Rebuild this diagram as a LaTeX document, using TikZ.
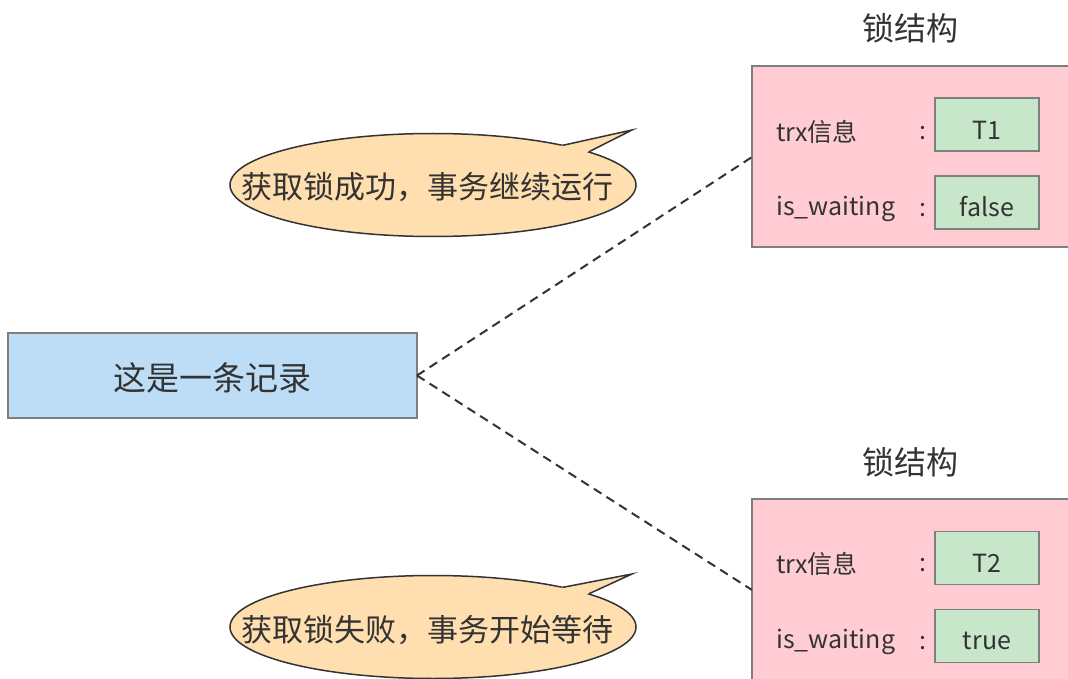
\documentclass[tikz,border=0pt]{standalone}
\usepackage{fontspec}
\setmainfont{Noto Sans CJK SC}
\usetikzlibrary{shapes.geometric}
\definecolor{txt}{HTML}{333333}
\definecolor{bordergray}{HTML}{7F7F7F}
\definecolor{recblue}{HTML}{BDDDF6}
\definecolor{lockpink}{HTML}{FFCCD3}
\definecolor{valgreen}{HTML}{C8E6CA}
\definecolor{bubfill}{HTML}{FFDFAF}
\tikzset{
  recbox/.style={draw=bordergray, line width=1.5pt, fill=recblue, minimum width=409, minimum height=85, inner sep=0, outer sep=0},
  rectext/.style={text=txt, font=\fontsize{33}{33}\selectfont, inner sep=0},
  lockbox/.style={draw=bordergray, line width=1.5pt, fill=lockpink, minimum width=340, minimum height=181, inner sep=0, outer sep=0, anchor=north west},
  title/.style={text=txt, font=\fontsize{32}{32}\selectfont, inner sep=0},
  lbl/.style={text=txt, font=\fontsize{25}{25}\selectfont, inner sep=0, anchor=west},
  valbox/.style={draw=bordergray, line width=1.3pt, fill=valgreen, minimum width=104, minimum height=53, inner sep=0, outer sep=0},
  valtext/.style={text=txt, font=\fontsize{25}{25}\selectfont, inner sep=0},
  bubble/.style={ellipse, draw=txt, line width=1.5pt, fill=bubfill, minimum width=406, minimum height=103, inner sep=0, outer sep=0},
  bubtext/.style={text=txt, font=\fontsize{31}{31}\selectfont, inner sep=0},
  conn/.style={draw=txt, line width=2pt, dash pattern=on 9pt off 6pt},
}
\begin{document}
\begin{tikzpicture}[x=1pt, y=-1pt]
\useasboundingbox (0,0) rectangle (1068,679);
\fill[white] (0,0) rectangle (1068,679);

% record
\node[recbox] (rec) at (212.5,375.5) {};
\node[rectext] (rect) at (212.5,378) {这是一条记录};

% lock structure 1
\node[title] (t1) at (910,28) {锁结构};
\node[lockbox] (lock1) at (752,66) {};
\node[lbl] (l1a) at (776,132) {trx信息};
\node[lbl] (c1a) at (919,133) {:};
\node[valbox] (v1a) at (987,124.5) {};
\node[valtext] (v1at) at (987,130) {T1};
\node[lbl] (l1b) at (776,209) {is\_waiting};
\node[lbl] (c1b) at (919,210) {:};
\node[valbox] (v1b) at (987,202.5) {};
\node[valtext] (v1bt) at (987,207) {false};

% lock structure 2
\node[title] (t2) at (910,462) {锁结构};
\node[lockbox] (lock2) at (752,499) {};
\node[lbl] (l2a) at (776,564) {trx信息};
\node[lbl] (c2a) at (919,565) {:};
\node[valbox] (v2a) at (987,558) {};
\node[valtext] (v2at) at (987,563) {T2};
\node[lbl] (l2b) at (776,642) {is\_waiting};
\node[lbl] (c2b) at (919,643) {:};
\node[valbox] (v2b) at (987,636) {};
\node[valtext] (v2bt) at (987,641) {true};

% connectors
\draw[conn] (rec.east) -- (lock1.west |- 0,157);
\draw[conn] (rec.east) -- (lock2.west |- 0,590);

% bubble 1
\node[bubble] (b1) at (433,185) {};
\coordinate (tip1) at (632,130);
\fill[bubfill] (b1.12) -- (tip1) -- (b1.17) -- (b1.center) -- cycle;
\draw[txt, line width=1.5pt, line join=miter] (b1.12) -- (tip1) -- (b1.17);
\node[bubtext] (bt1) at (427,187) {获取锁成功，事务继续运行};

% bubble 2
\node[bubble] (b2) at (433,627) {};
\coordinate (tip2) at (632,574);
\fill[bubfill] (b2.12) -- (tip2) -- (b2.17) -- (b2.center) -- cycle;
\draw[txt, line width=1.5pt, line join=miter] (b2.12) -- (tip2) -- (b2.17);
\node[bubtext] (bt2) at (427,630) {获取锁失败，事务开始等待};
\end{tikzpicture}
\end{document}
